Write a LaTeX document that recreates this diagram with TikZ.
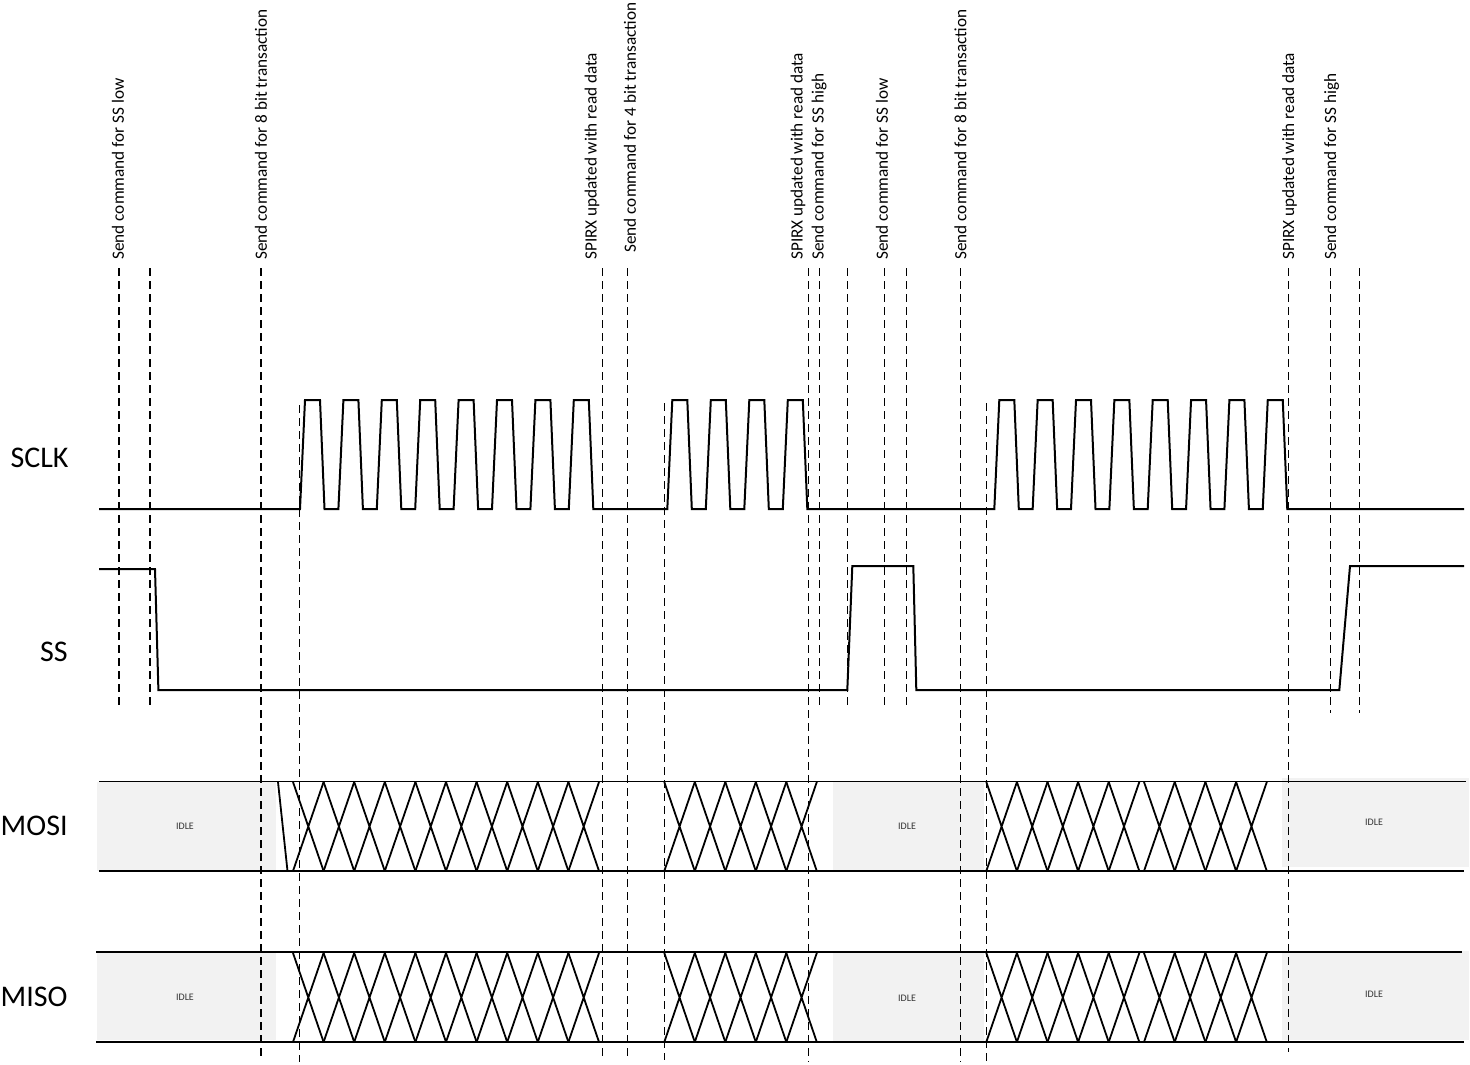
\documentclass[tikz,border=0pt]{standalone}
\usepackage{fontspec}
\setmainfont{Carlito}
\definecolor{IdleClr}{rgb}{0.949,0.949,0.949}
\definecolor{IdleTxtClr}{rgb}{0.2,0.2,0.2}
\newcommand{\DataCells}[5]{%
  \foreach \k in {1,...,#3}{%
    \draw[bus] ({#1+(\k-1)*#2},#4) -- ({#1+\k*#2},#5)
               ({#1+(\k-1)*#2},#5) -- ({#1+\k*#2},#4);}}

\begin{document}
\begin{tikzpicture}[x=0.5pt,y=-0.5pt,
  wave/.style={line width=1pt,color=black},
  bus/.style={line width=0.9pt,color=black},
  marker/.style={line width=0.7pt,color=black,dash pattern=on 4pt off 2.5pt},
  sig/.style={font=\fontsize{15}{18}\selectfont,anchor=east,inner sep=0pt},
  note/.style={font=\fontsize{8.6}{10}\selectfont,rotate=90,anchor=west,inner sep=0pt},
  idle/.style={font=\fontsize{5}{6}\selectfont,text=IdleTxtClr,inner sep=0pt}]
\useasboundingbox (0,0) rectangle (1470,1064);

\fill[IdleClr] (97,782) rectangle (276,871);
\fill[IdleClr] (97,952) rectangle (276,1040);
\fill[IdleClr] (833,782) rectangle (984,871);
\fill[IdleClr] (833,952) rectangle (984,1042);
\fill[IdleClr] (1282,778) rectangle (1469,867);
\fill[IdleClr] (1282,951) rectangle (1469,1040);

\foreach \x/\ya/\yb/\n in {119/268/708/m1,150/268/708/m2,261/268/1058/m3,299.5/405/1062/m4,
  602.3/268/1058/m5,627.5/268/1058/m6,664.3/403/1060/m7,808.3/268/1062/m8,819.5/268/708/m9,
  847.3/268/708/m10,884.3/268/708/m11,906.3/268/708/m12,960.5/268/1062/m13,986.3/403/1062/m14,
  1288.3/268/1052/m15,1330.3/268/713/m16,1359.3/268/713/m17}
  \draw[marker] (\x,\ya) coordinate (\n-top) -- (\x,\yb) coordinate (\n-bot);

\foreach \x/\y/\n/\txt in {118/260/n1/Send command for SS low,
  261/260/n2/Send command for 8 bit transaction,
  592/260/n3/SPIRX updated with read data,
  630/253/n4/Send command for 4 bit transaction,
  798/260/n5/SPIRX updated with read data,
  819/260/n6/Send command for SS high,
  882/260/n7/Send command for SS low,
  960.5/260/n8/Send command for 8 bit transaction,
  1289.5/260/n9/SPIRX updated with read data,
  1331.5/260/n10/Send command for SS high}
  \node[note] (\n) at (\x,\y) {\txt};

\node[sig] (sclk) at (69,458) {SCLK};
\node[sig] (ss) at (68,652) {SS};
\node[sig] (mosi) at (68,826) {MOSI};
\node[sig] (miso) at (68,997) {MISO};

\draw[wave] (99,509)
  \foreach \t in {300,338.4,...,569} {-- (\t,509) -- ({\t+5},400) -- ({\t+20},400) -- ({\t+24.5},509)}
  \foreach \t in {667.3,705.8,...,783} {-- (\t,509) -- ({\t+5},400) -- ({\t+20},400) -- ({\t+24.5},509)}
  \foreach \t in {994.3,1032.65,...,1263} {-- (\t,509) -- ({\t+5},400) -- ({\t+20},400) -- ({\t+24.5},509)}
  -- (1464,509);

\draw[wave] (99,569) -- (155,569) -- (158.4,690) -- (847.3,690) -- (852.3,566) -- (913.3,566)
  -- (916.3,690) -- (1339.3,690) -- (1350,566) -- (1464,566);

\draw[bus] (99,781.5) -- (1466,781.5);
\draw[bus] (99,871) -- (1464,871);
\draw[bus] (96,952) -- (1462,952);
\draw[bus] (96,1042) -- (1464,1042);
\draw[bus] (278,782) -- (287.5,871);

\DataCells{293}{30.6}{10}{782}{871}
\DataCells{293}{30.6}{10}{953}{1042}
\DataCells{664.3}{30.5}{5}{782}{871}
\DataCells{664.3}{30.5}{5}{953}{1042}
\DataCells{986.3}{30.6}{5}{782}{871}
\DataCells{986.3}{30.6}{5}{953}{1042}
\DataCells{1144}{30.7}{4}{782}{871}
\DataCells{1144}{30.7}{4}{953}{1042}

\node[idle] (idle1) at (185,826) {IDLE};
\node[idle] (idle2) at (185,997) {IDLE};
\node[idle] (idle3) at (907,826) {IDLE};
\node[idle] (idle4) at (907,998) {IDLE};
\node[idle] (idle5) at (1374,822) {IDLE};
\node[idle] (idle6) at (1374,994) {IDLE};
\end{tikzpicture}
\end{document}
